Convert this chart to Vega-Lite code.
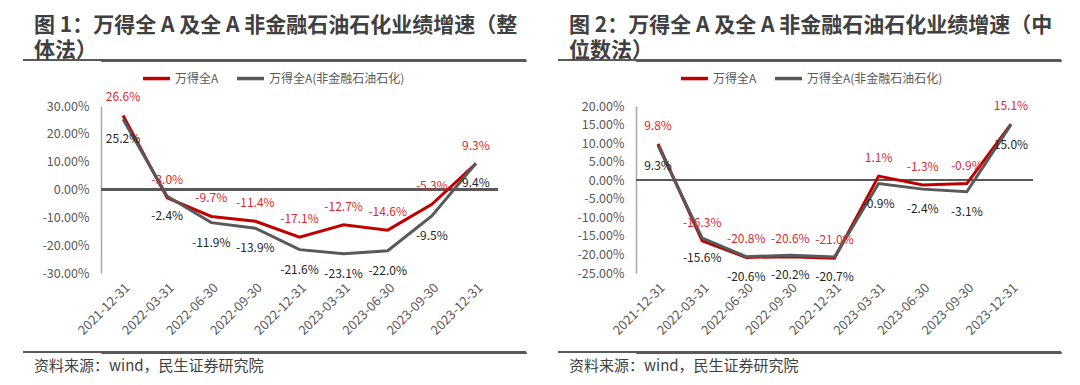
{
  "$schema": "https://vega.github.io/schema/vega-lite/v6.json",
  "background": "white",
  "padding": {"left": 21, "top": 14, "right": 0, "bottom": 0},
  "config": {
    "font": "Noto Sans CJK SC",
    "locale": {"number": {"decimal": ".", "thousands": ",", "grouping": [3], "currency": ["", ""], "minus": "-"}},
    "view": {"stroke": null},
    "axis": {"grid": false, "ticks": false, "labelOverlap": false}
  },
  "datasets": {
    "left": [
      {"d": "2021-12-31", "s": "万得全A", "v": 0.266},
      {"d": "2022-03-31", "s": "万得全A", "v": -0.030},
      {"d": "2022-06-30", "s": "万得全A", "v": -0.097},
      {"d": "2022-09-30", "s": "万得全A", "v": -0.114},
      {"d": "2022-12-31", "s": "万得全A", "v": -0.171},
      {"d": "2023-03-31", "s": "万得全A", "v": -0.127},
      {"d": "2023-06-30", "s": "万得全A", "v": -0.146},
      {"d": "2023-09-30", "s": "万得全A", "v": -0.053},
      {"d": "2023-12-31", "s": "万得全A", "v": 0.093},
      {"d": "2021-12-31", "s": "万得全A(非金融石油石化)", "v": 0.252},
      {"d": "2022-03-31", "s": "万得全A(非金融石油石化)", "v": -0.024},
      {"d": "2022-06-30", "s": "万得全A(非金融石油石化)", "v": -0.119},
      {"d": "2022-09-30", "s": "万得全A(非金融石油石化)", "v": -0.139},
      {"d": "2022-12-31", "s": "万得全A(非金融石油石化)", "v": -0.216},
      {"d": "2023-03-31", "s": "万得全A(非金融石油石化)", "v": -0.231},
      {"d": "2023-06-30", "s": "万得全A(非金融石油石化)", "v": -0.220},
      {"d": "2023-09-30", "s": "万得全A(非金融石油石化)", "v": -0.095},
      {"d": "2023-12-31", "s": "万得全A(非金融石油石化)", "v": 0.094}
    ],
    "right": [
      {"d": "2021-12-31", "s": "万得全A", "v": 0.098},
      {"d": "2022-03-31", "s": "万得全A", "v": -0.163},
      {"d": "2022-06-30", "s": "万得全A", "v": -0.208},
      {"d": "2022-09-30", "s": "万得全A", "v": -0.206},
      {"d": "2022-12-31", "s": "万得全A", "v": -0.210},
      {"d": "2023-03-31", "s": "万得全A", "v": 0.011},
      {"d": "2023-06-30", "s": "万得全A", "v": -0.013},
      {"d": "2023-09-30", "s": "万得全A", "v": -0.009},
      {"d": "2023-12-31", "s": "万得全A", "v": 0.151},
      {"d": "2021-12-31", "s": "万得全A(非金融石油石化)", "v": 0.093},
      {"d": "2022-03-31", "s": "万得全A(非金融石油石化)", "v": -0.156},
      {"d": "2022-06-30", "s": "万得全A(非金融石油石化)", "v": -0.206},
      {"d": "2022-09-30", "s": "万得全A(非金融石油石化)", "v": -0.202},
      {"d": "2022-12-31", "s": "万得全A(非金融石油石化)", "v": -0.207},
      {"d": "2023-03-31", "s": "万得全A(非金融石油石化)", "v": -0.009},
      {"d": "2023-06-30", "s": "万得全A(非金融石油石化)", "v": -0.024},
      {"d": "2023-09-30", "s": "万得全A(非金融石油石化)", "v": -0.031},
      {"d": "2023-12-31", "s": "万得全A(非金融石油石化)", "v": 0.150}
    ]
  },
  "resolve": {"scale": {"x": "independent", "y": "independent", "color": "independent"}, "legend": {"color": "independent"}},
  "spacing": 28,
  "hconcat": [
    {
      "columns": 1, "spacing": 0,
      "resolve": {"scale": {"x": "independent", "color": "independent"}, "legend": {"color": "independent"}},
      "concat": [
        {
          "width": 425, "height": 1,
          "view": {"stroke": "#595959", "strokeWidth": 1},
          "title": {"text": ["图 1：万得全 A 及全 A 非金融石油石化业绩增速（整", "体法）"], "anchor": "start", "frame": "group", "dx": -67, "fontSize": 21, "fontWeight": "bold", "color": "#404040", "lineHeight": 25, "offset": -1.5},
          "data": {"values": [{"t": ""}]},
          "mark": {"type": "rule", "color": "#595959", "strokeWidth": 2},
          "encoding": {
            "x": {"datum": 0, "type": "quantitative", "scale": {"domain": [0, 1], "range": [-78, 425]}, "axis": null},
            "x2": {"datum": 1},
            "y": {"value": 0}
          }
        },
        {
          "columns": 1, "spacing": 0,
          "resolve": {"scale": {"color": "independent"}, "legend": {"color": "independent"}},
          "concat": [
            {
              "width": 397, "height": 167,
              "data": {"name": "left"},
              "layer": [
                {
                  "mark": {"type": "rule", "color": "#595959", "strokeWidth": 1.3},
                  "encoding": {"y": {"datum": 0, "type": "quantitative", "scale": {"domain": [-0.3, 0.3], "nice": false, "zero": false},
                          "axis": {"title": null, "values": [-0.3, -0.2, -0.1, 0, 0.1, 0.2, 0.3], "tickCount": 20, "format": ".2%", "labelOverlap": false, "labelFontSize": 12.5, "labelColor": "#595959", "labelPadding": 12, "domainColor": "#A6A6A6", "domainWidth": 1.5, "minExtent": 78, "maxExtent": 78}}}
                },
                {
                  "mark": {"type": "line", "strokeWidth": 3},
                  "encoding": {
                    "x": {"field": "d", "type": "ordinal", "sort": null, "scale": {"type": "point", "padding": 0.5},
                          "axis": {"title": null, "labelAngle": -45, "domain": false, "ticks": false, "labelFontSize": 13, "labelColor": "#595959", "labelPadding": 8}},
                    "y": {"field": "v", "type": "quantitative"},
                    "color": {"field": "s", "type": "nominal", "scale": {"domain": ["万得全A", "万得全A(非金融石油石化)"], "range": ["#C00000", "#595959"]},
                              "legend": {"title": null, "orient": "none", "legendX": 40, "legendY": -43.2, "direction": "horizontal", "symbolType": "stroke", "symbolSize": 729, "symbolStrokeWidth": 3.5, "labelFontSize": 12, "labelColor": "#595959", "columnPadding": 11, "labelOffset": 3}}
                  }
                },
                {
                  "transform": [{"filter": "datum.s === '万得全A'"}],
                  "mark": {"type": "text", "dy": -18, "fontSize": 12, "color": "#E0282E"},
                  "encoding": {
                    "x": {"field": "d", "type": "ordinal", "sort": null},
                    "y": {"field": "v", "type": "quantitative"},
                    "text": {"field": "v", "type": "quantitative", "format": ".1%"}
                  }
                },
                {
                  "transform": [{"filter": "datum.s !== '万得全A'"}],
                  "mark": {"type": "text", "dy": 20, "fontSize": 12, "color": "#262626"},
                  "encoding": {
                    "x": {"field": "d", "type": "ordinal", "sort": null},
                    "y": {"field": "v", "type": "quantitative"},
                    "text": {"field": "v", "type": "quantitative", "format": ".1%"}
                  }
                }
              ]
            },
            {
              "width": 1, "height": 1,
              "data": {"values": [{"t": ""}]},
              "mark": "text",
              "encoding": {"text": {"field": "t"}}
            }
          ]
        },
        {
          "width": 425, "height": 1,
          "view": {"stroke": "#595959", "strokeWidth": 1},
          "title": {"text": "资料来源：wind，民生证券研究院", "orient": "bottom", "anchor": "start", "frame": "group", "dx": -67, "fontSize": 15, "fontWeight": "normal", "color": "#404040", "offset": 6},
          "data": {"values": [{"t": ""}]},
          "mark": {"type": "rule", "color": "#595959", "strokeWidth": 2},
          "encoding": {
            "x": {"datum": 0, "type": "quantitative", "scale": {"domain": [0, 1], "range": [-78, 425]}, "axis": null},
            "x2": {"datum": 1},
            "y": {"value": 0}
          }
        }
      ]
    },
    {
      "columns": 1, "spacing": 0,
      "resolve": {"scale": {"x": "independent", "color": "independent"}, "legend": {"color": "independent"}},
      "concat": [
        {
          "width": 425, "height": 1,
          "view": {"stroke": "#595959", "strokeWidth": 1},
          "title": {"text": ["图 2：万得全 A 及全 A 非金融石油石化业绩增速（中", "位数法）"], "anchor": "start", "frame": "group", "dx": -67, "fontSize": 21, "fontWeight": "bold", "color": "#404040", "lineHeight": 25, "offset": -1.5},
          "data": {"values": [{"t": ""}]},
          "mark": {"type": "rule", "color": "#595959", "strokeWidth": 2},
          "encoding": {
            "x": {"datum": 0, "type": "quantitative", "scale": {"domain": [0, 1], "range": [-78, 425]}, "axis": null},
            "x2": {"datum": 1},
            "y": {"value": 0}
          }
        },
        {
          "columns": 1, "spacing": 0,
          "resolve": {"scale": {"color": "independent"}, "legend": {"color": "independent"}},
          "concat": [
            {
              "width": 397, "height": 167,
              "data": {"name": "right"},
              "layer": [
                {
                  "mark": {"type": "rule", "color": "#595959", "strokeWidth": 1.3},
                  "encoding": {"y": {"datum": 0, "type": "quantitative", "scale": {"domain": [-0.25, 0.2], "nice": false, "zero": false},
                          "axis": {"title": null, "values": [-0.25, -0.2, -0.15, -0.1, -0.05, 0, 0.05, 0.1, 0.15, 0.2], "tickCount": 20, "format": ".2%", "labelOverlap": false, "labelFontSize": 12.5, "labelColor": "#595959", "labelPadding": 12, "domainColor": "#A6A6A6", "domainWidth": 1.5, "minExtent": 78, "maxExtent": 78}}}
                },
                {
                  "mark": {"type": "line", "strokeWidth": 3},
                  "encoding": {
                    "x": {"field": "d", "type": "ordinal", "sort": null, "scale": {"type": "point", "padding": 0.5},
                          "axis": {"title": null, "labelAngle": -45, "domain": false, "ticks": false, "labelFontSize": 13, "labelColor": "#595959", "labelPadding": 8}},
                    "y": {"field": "v", "type": "quantitative"},
                    "color": {"field": "s", "type": "nominal", "scale": {"domain": ["万得全A", "万得全A(非金融石油石化)"], "range": ["#C00000", "#595959"]},
                              "legend": {"title": null, "orient": "none", "legendX": 43, "legendY": -43.2, "direction": "horizontal", "symbolType": "stroke", "symbolSize": 729, "symbolStrokeWidth": 3.5, "labelFontSize": 12, "labelColor": "#595959", "columnPadding": 11, "labelOffset": 3}}
                  }
                },
                {
                  "transform": [{"filter": "datum.s === '万得全A'"}],
                  "mark": {"type": "text", "dy": -18, "fontSize": 12, "color": "#E0282E"},
                  "encoding": {
                    "x": {"field": "d", "type": "ordinal", "sort": null},
                    "y": {"field": "v", "type": "quantitative"},
                    "text": {"field": "v", "type": "quantitative", "format": ".1%"}
                  }
                },
                {
                  "transform": [{"filter": "datum.s !== '万得全A'"}],
                  "mark": {"type": "text", "dy": 20, "fontSize": 12, "color": "#262626"},
                  "encoding": {
                    "x": {"field": "d", "type": "ordinal", "sort": null},
                    "y": {"field": "v", "type": "quantitative"},
                    "text": {"field": "v", "type": "quantitative", "format": ".1%"}
                  }
                }
              ]
            },
            {
              "width": 1, "height": 1,
              "data": {"values": [{"t": ""}]},
              "mark": "text",
              "encoding": {"text": {"field": "t"}}
            }
          ]
        },
        {
          "width": 425, "height": 1,
          "view": {"stroke": "#595959", "strokeWidth": 1},
          "title": {"text": "资料来源：wind，民生证券研究院", "orient": "bottom", "anchor": "start", "frame": "group", "dx": -67, "fontSize": 15, "fontWeight": "normal", "color": "#404040", "offset": 6},
          "data": {"values": [{"t": ""}]},
          "mark": {"type": "rule", "color": "#595959", "strokeWidth": 2},
          "encoding": {
            "x": {"datum": 0, "type": "quantitative", "scale": {"domain": [0, 1], "range": [-78, 425]}, "axis": null},
            "x2": {"datum": 1},
            "y": {"value": 0}
          }
        }
      ]
    }
  ]
}
